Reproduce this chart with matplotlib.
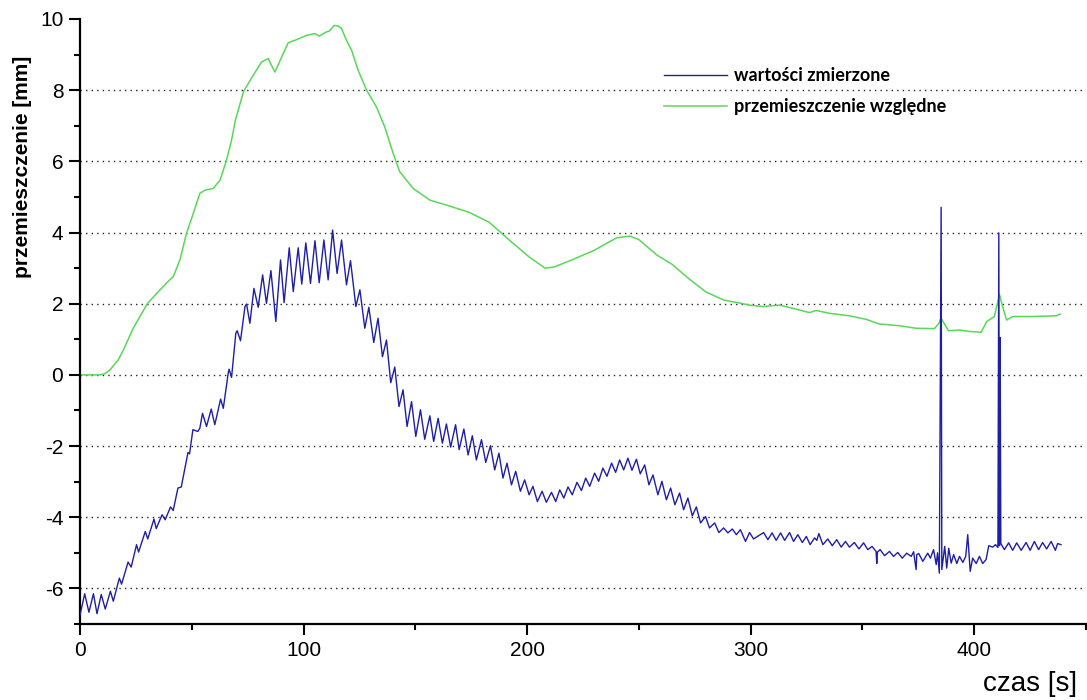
import matplotlib
matplotlib.use("Agg")
import matplotlib.pyplot as plt
from matplotlib.ticker import MultipleLocator

plt.rcParams['font.family'] = ['Liberation Sans', 'DejaVu Sans']
plt.rcParams['axes.unicode_minus'] = False

# ---- data ----
green_t = [0, 8.9, 11.0, 13.4, 17.1, 19.4, 23.8, 30.1, 34.3, 39.0, 41.7, 44.7, 47.7, 50.7,
           53.6, 55.9, 59.6, 62.6, 65.4, 67.8, 69.5, 73.2, 77.5, 81.2, 84.2, 84.9, 87.2,
           90.2, 93.1, 96.9, 101.3, 105.1, 107.0, 110.3, 111.5, 113.7, 115.5, 117.0, 119.2,
           121.5, 124.4, 128.2, 132.6, 136.3, 140.1, 143.0, 149.0, 156.5, 165, 174, 183,
           192, 201, 208, 212, 220, 230, 240, 246, 250, 258, 265, 272, 280, 288, 295,
           299.5, 305.5, 312.9, 318.9, 326.3, 329.3, 335.3, 344.2, 351.7, 357.6, 366.6,
           374.0, 382.2, 384.2, 385.2, 386.7, 388.5, 393.4, 397.9, 403.1, 405.6, 409.0,
           411.3, 412.7, 414.5, 417.2, 426.2, 436.6, 438.5]
green_y = [0, 0, 0.03, 0.14, 0.42, 0.70, 1.31, 2.0, 2.29, 2.6, 2.76, 3.23, 3.99, 4.54,
           5.1, 5.19, 5.24, 5.47, 6.0, 6.6, 7.16, 7.97, 8.42, 8.79, 8.89, 8.79, 8.51,
           8.93, 9.33, 9.42, 9.54, 9.59, 9.52, 9.64, 9.66, 9.82, 9.80, 9.73, 9.40,
           9.12, 8.56, 8.0, 7.53, 6.97, 6.22, 5.71, 5.24, 4.91, 4.75, 4.57, 4.29,
           3.79, 3.31, 3.0, 3.03, 3.23, 3.5, 3.85, 3.9, 3.8, 3.37, 3.1, 2.72, 2.33, 2.1, 2.02,
           1.96, 1.92, 1.96, 1.87, 1.75, 1.81, 1.73, 1.66, 1.56, 1.43, 1.38,
           1.31, 1.30, 1.45, 1.59, 1.43, 1.24, 1.26, 1.22, 1.20, 1.50, 1.64,
           2.26, 1.92, 1.54, 1.64, 1.64, 1.66, 1.71]

blue_t = [0.0, 2.1, 4.0, 6.0, 7.6, 9.5, 11.3, 13.6, 14.9, 17.6, 18.6, 21.5, 22.9, 25.3, 26.2,
          29.2, 30.3, 33.1, 34.1, 36.7, 38.1, 40.5, 41.7, 43.8, 45.3, 47.5, 48.3, 49.0, 50.5,
          52.7, 53.6, 54.8, 56.6, 58.7, 60.3, 62.9, 64.1, 66.3, 66.7, 67.8, 69.7, 70.3, 71.8,
          73.8, 74.5, 76.0, 77.8, 79.7, 81.7, 83.4, 85.4, 87.6, 89.7, 91.3, 93.6, 95.4, 97.6,
          99.2, 101.0, 103.1, 105.1, 107.0, 109.1, 111.0, 113.0, 115.0, 117.0, 119.2, 121.0,
          123.4, 125.2, 127.4, 129.2, 131.4, 133.3, 135.3, 137.1, 139.0, 140.8, 142.7, 144.5,
          146.3, 148.3, 150.2, 152.3, 154.2, 156.5, 158.2, 160.2, 162.1, 163.9, 165.8, 168.0,
          169.6, 171.7, 173.6, 175.5, 177.3, 179.6, 181.5, 183.6, 185.5, 187.4, 189.2, 191.0,
          193.0, 194.9, 197.0, 198.9, 200.9, 202.6, 204.6, 206.7, 208.6, 210.9, 212.8, 214.6,
          216.4, 218.3, 220.2, 222.3, 224.3, 226.2, 228.0, 230.2, 232.0, 233.9, 235.7, 237.8,
          239.6, 241.4, 243.2, 245.1, 246.9, 248.9, 250.6, 252.6, 254.5, 256.3, 258.5, 260.3,
          262.3, 264.2, 266.1, 268.2, 270.0, 271.9, 273.9, 275.7, 277.6, 279.8, 281.6, 283.9,
          285.8, 287.9, 289.8, 291.8, 293.6, 295.4, 297.7, 299.5, 301.3, 305.8, 307.7, 309.6,
          311.4, 313.4, 315.2, 317.4, 319.2, 321.1, 323.1, 324.9, 326.6, 328.6, 329.6, 330.5,
          332.3, 334.5, 336.5, 338.5, 340.5, 342.4, 344.2, 346.4, 348.4, 350.5, 352.4, 354.3,
          356.1, 356.4, 356.7, 357.9, 359.9, 362.1, 363.9, 365.8, 367.8, 369.8, 371.8, 372.9,
          374.0, 374.3, 375.2, 377.0, 379.2, 380.4, 381.8, 383.0, 383.6, 384.4, 385.2, 385.5,
          386.8, 387.7, 388.6, 389.7, 390.8, 392.2, 393.4, 394.9, 396.2, 397.1, 398.2, 399.3,
          400.9, 402.3, 403.8, 405.3, 406.5, 408.3, 409.5, 410.6, 411.0, 411.3, 411.6, 411.9,
          413.5, 415.4, 417.2, 419.0, 421.0, 423.2, 425.0, 426.9, 428.8, 430.6, 432.4, 434.4,
          436.3, 437.3, 438.8]
blue_y = [-6.75, -6.15, -6.67, -6.15, -6.71, -6.17, -6.58, -6.08, -6.36, -5.71, -5.88, -5.26, -5.40, -4.77, -4.98,
          -4.40, -4.61, -4.05, -4.32, -3.93, -4.07, -3.71, -3.81, -3.18, -3.15, -2.43, -2.18, -2.22, -1.54,
          -1.59, -1.50, -1.08, -1.45, -0.96, -1.40, -0.68, -0.94, 0.05, 0.16, -0.07, 1.17, 1.24, 0.96,
          1.92, 1.99, 1.45, 2.43, 1.90, 2.81, 2.01, 2.93, 1.50, 3.23, 2.03, 3.57, 2.34, 3.57,
          2.55, 3.71, 2.57, 3.77, 2.59, 3.79, 2.67, 4.07, 2.85, 3.79, 2.53, 3.21,
          1.92, 2.39, 1.31, 1.90, 0.91, 1.59, 0.51, 0.98, -0.22, 0.22, -0.89, -0.42,
          -1.45, -0.75, -1.73, -0.98, -1.81, -1.15, -1.87, -1.22, -1.92, -1.38, -2.03, -1.40,
          -2.10, -1.52, -2.25, -1.71, -2.39, -1.82, -2.46, -1.99, -2.67, -2.20, -2.90, -2.48,
          -3.09, -2.71, -3.27, -2.95, -3.37, -3.13, -3.56, -3.27, -3.58, -3.30, -3.56, -3.23,
          -3.46, -3.15, -3.37, -3.02, -3.25, -2.90, -3.13, -2.76, -2.99, -2.62, -2.85, -2.48,
          -2.74, -2.39, -2.67, -2.34, -2.68, -2.37, -2.78, -2.53, -3.09, -2.81, -3.37, -2.99,
          -3.51, -3.18, -3.65, -3.32, -3.79, -3.46, -3.96, -3.71, -4.16, -3.98, -4.30, -4.16,
          -4.43, -4.30, -4.44, -4.33, -4.49, -4.35, -4.68, -4.43, -4.61, -4.43, -4.63, -4.44,
          -4.65, -4.44, -4.65, -4.43, -4.68, -4.49, -4.71, -4.54, -4.77, -4.58, -4.65, -4.46,
          -4.77, -4.61, -4.80, -4.63, -4.84, -4.68, -4.84, -4.71, -4.89, -4.72, -4.91, -4.82,
          -4.96, -5.30, -4.98, -4.91, -5.08, -4.96, -5.10, -4.99, -5.15, -5.01, -5.10, -4.97,
          -5.47, -5.05, -5.02, -5.24, -5.01, -5.15, -4.91, -5.33, -5.00, -5.57, 4.71, -5.47,
          -4.82, -5.43, -4.87, -5.29, -5.05, -5.30, -5.10, -5.27, -5.10, -4.49, -5.52, -5.15,
          -5.30, -5.10, -5.30, -5.19, -4.80, -4.84, -4.77, -4.85, 3.99, -4.80, 1.05, -4.74,
          -4.91, -4.72, -4.93, -4.72, -4.93, -4.71, -4.93, -4.68, -4.91, -4.71, -4.89, -4.68,
          -4.93, -4.74, -4.77]

grid_levels = [-6, -4, -2, 0, 2, 4, 6, 8]
labels = ['wartości zmierzone', 'przemieszczenie względne']

BLUE = '#1e1ea6'
GREEN = '#58d858'

fig = plt.figure(figsize=(10.87, 7.0), dpi=100)
ax = fig.add_axes([80 / 1087, 1 - 624 / 700, 1006 / 1087, 605 / 700])

for g in grid_levels:
    ax.axhline(g, color='#222222', lw=1.0, ls=(0, (1, 3)), zorder=1)

lb, = ax.plot(blue_t, blue_y, color=BLUE, lw=1.0, zorder=3, label=labels[0],
              solid_joinstyle='round')
lg, = ax.plot(green_t, green_y, color=GREEN, lw=1.1, zorder=2, label=labels[1],
              solid_joinstyle='round')

ax.set_xlim(0, 450)
ax.set_ylim(-7, 10)
ax.xaxis.set_major_locator(MultipleLocator(100))
ax.xaxis.set_minor_locator(MultipleLocator(50))
ax.yaxis.set_major_locator(MultipleLocator(2))
ax.yaxis.set_minor_locator(MultipleLocator(1))
for s in ['top', 'right']:
    ax.spines[s].set_visible(False)
for s in ['left', 'bottom']:
    ax.spines[s].set_linewidth(1.6)
ax.tick_params(which='major', direction='out', length=8, width=1.5, labelsize=15, pad=4)
ax.tick_params(which='minor', direction='out', length=4.5, width=1.5)

fig.text(0.021, 1 - 167 / 700, 'przemieszczenie [mm]', rotation=90, ha='center', va='center',
         fontsize=15, fontweight='bold')
fig.text(1030 / 1087, 1 - 684 / 700, 'czas [s]', ha='center', va='center', fontsize=20)

leg = fig.legend(handles=[lb, lg], loc='upper left', bbox_to_anchor=(655 / 1087, 1 - 58 / 700),
                 frameon=False, handlelength=3.5, handletextpad=0.4, labelspacing=0.8,
                 borderpad=0, prop={'family': ['Lato', 'DejaVu Sans'], 'weight': 'bold', 'size': 13})

fig.savefig('out.png', dpi=100)
